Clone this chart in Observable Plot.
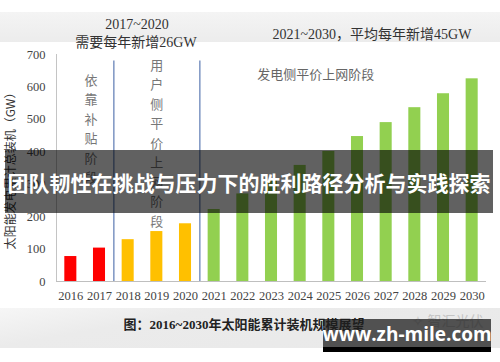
<!DOCTYPE html>
<html>
<head>
<meta charset="utf-8">
<script src="https://cdn.jsdelivr.net/npm/d3@7"></script>
<script src="https://cdn.jsdelivr.net/npm/@observablehq/plot@0.6"></script>
<style>
  html, body { margin: 0; padding: 0; background: #fff; }
  #wrap { position: relative; width: 500px; height: 362px; overflow: hidden; background: #fff; }
  .abs { position: absolute; white-space: nowrap; }
  .c { transform: translate(-50%, -50%); }
  #topband { left: 0; top: 12px; width: 500px; height: 30px; background: linear-gradient(#f4f4f4, #ececec); }
  #botband { left: 0; top: 308px; width: 500px; height: 40px; background: linear-gradient(170deg, #f6f6f6 0%, #ebebeb 30%, #e9e9e9 100%); }
  #chart { position: absolute; left: 0; top: 0; }
  .hdr { font-family: "Liberation Serif", "Noto Sans CJK SC", serif; font-size: 14px; color: #333; }
  #caption { font-family: "Liberation Serif", "Noto Sans CJK SC", serif; font-weight: bold; font-size: 13px; color: #222; }
  #wm { font-family: "Noto Sans CJK SC", sans-serif; font-size: 14px; color: #c4c4c4; }
  #banner { left: 5px; top: 150px; width: 488px; height: 63px; background: rgba(0,0,0,0.62); }
  #bannerText { left: 249px; top: 182px; font-family: "Noto Sans CJK SC", sans-serif; font-weight: bold; font-size: 21px; color: #fff; }
  #url { left: 323px; top: 319px; width: 168px; height: 28px; background: rgba(30,30,30,0.75); }
  #urlStrip { left: 323px; top: 347px; width: 168px; height: 5px; background: #000; }
  #urlText { left: 407px; top: 334px; font-family: "Open Sans", "DejaVu Sans", sans-serif; font-weight: bold; font-size: 19px; color: #fff; }
</style>
</head>
<body>
<div id="wrap">
  <div id="topband" class="abs"></div>
  <div id="botband" class="abs"></div>
  <div id="chart"></div>
  <div class="abs c hdr" style="left:137px; top:25px;">2017~2020</div>
  <div class="abs c hdr" style="left:136px; top:41px;">需要每年新增26GW</div>
  <div class="abs c hdr" style="left:372px; top:33px;">2021~2030，平均每年新增45GW</div>
  <div id="caption" class="abs c" style="left:244px; top:323px;">图：2016~2030年太阳能累计装机规模展望</div>
  <div id="wm" class="abs c" style="left:448px; top:320px;">✧ 智汇光伏</div>
  <div id="banner" class="abs"></div>
  <div id="bannerText" class="abs c">团队韧性在挑战与压力下的胜利路径分析与实践探索</div>
  <div id="url" class="abs"></div>
  <div id="urlStrip" class="abs"></div>
  <div id="urlText" class="abs c">www.zh-mile.com</div>
</div>
<script>
// ---- data ----
const years = [2016, 2017, 2018, 2019, 2020, 2021, 2022, 2023, 2024, 2025, 2026, 2027, 2028, 2029, 2030];
const capacityGW = [77, 103, 129, 154, 178, 222, 270, 311, 358, 401, 447, 490, 536, 579, 625];
const yearPhase = ["subsidy", "subsidy", "user", "user", "user", "grid", "grid", "grid", "grid", "grid", "grid", "grid", "grid", "grid", "grid"];
const phaseNames = ["subsidy", "user", "grid"];
const phaseColors = ["#ff0000", "#ffc000", "#92d050"];
const phaseBoundaries = [2017.5, 2020.5];
const yTicks = [0, 100, 200, 300, 400, 500, 600, 700];
const yLabel = "太阳能发电累计总装机（GW）";
const phaseLabels = ["依\n靠\n补\n贴\n阶\n段", "用\n户\n侧\n平\n价\n上\n网\n阶\n段"];
const phaseLabelX = [2016.7, 2019];
const phaseLabelY = [650, 696];
const gridLabel = "发电侧平价上网阶段";
const gridLabelX = 2022.5;
const gridLabelY = 638;

const barHalf = 0.21;
const data = years.map((y, i) => ({year: y, value: capacityGW[i], phase: yearPhase[i]}));
const vLabels = phaseLabels.map((t, i) => ({text: t, x: phaseLabelX[i], y: phaseLabelY[i]}));

const chart = Plot.plot({
  width: 500,
  height: 362,
  marginTop: 54,
  marginBottom: 81,
  marginLeft: 56,
  marginRight: 14,
  style: {background: "transparent", fontFamily: "Liberation Serif, serif", fontSize: "12.5px", color: "#444"},
  x: {type: "linear", domain: [years[0] - 0.5, years[years.length - 1] + 0.5], ticks: years, tickFormat: d => String(d), tickSize: 0, tickPadding: 10, label: null},
  y: {domain: [0, 700], ticks: yTicks, tickSize: 0, tickPadding: 11, label: null},
  color: {type: "ordinal", domain: phaseNames, range: phaseColors},
  marks: [
    Plot.ruleX([years[0] - 0.5], {stroke: "#c4c4c4", strokeWidth: 1}),
    Plot.ruleX(phaseBoundaries, {stroke: "#7d95c2", strokeWidth: 1.5, y1: 0, y2: 680}),
    Plot.rectY(data, {x1: d => d.year - barHalf, x2: d => d.year + barHalf, y: "value", fill: "phase"}),
    Plot.ruleY([0], {stroke: "#bfbfbf", strokeWidth: 1.2}),
    Plot.text(vLabels, {x: "x", y: "y", text: "text", lineAnchor: "top", lineHeight: 1.5, fontSize: 13, fill: "#777", fontFamily: "Noto Sans CJK SC, sans-serif"}),
    Plot.text([gridLabel], {x: gridLabelX, y: gridLabelY, text: d => d, textAnchor: "start", fontSize: 13, fill: "#666", fontFamily: "Noto Sans CJK SC, sans-serif"}),
    Plot.text([yLabel], {frameAnchor: "left", textAnchor: "middle", rotate: -90, dx: -45, text: d => d, fontSize: 12, fill: "#333", fontFamily: "Noto Sans CJK SC, sans-serif"})
  ]
});
document.getElementById("chart").appendChild(chart);
</script>
</body>
</html>
